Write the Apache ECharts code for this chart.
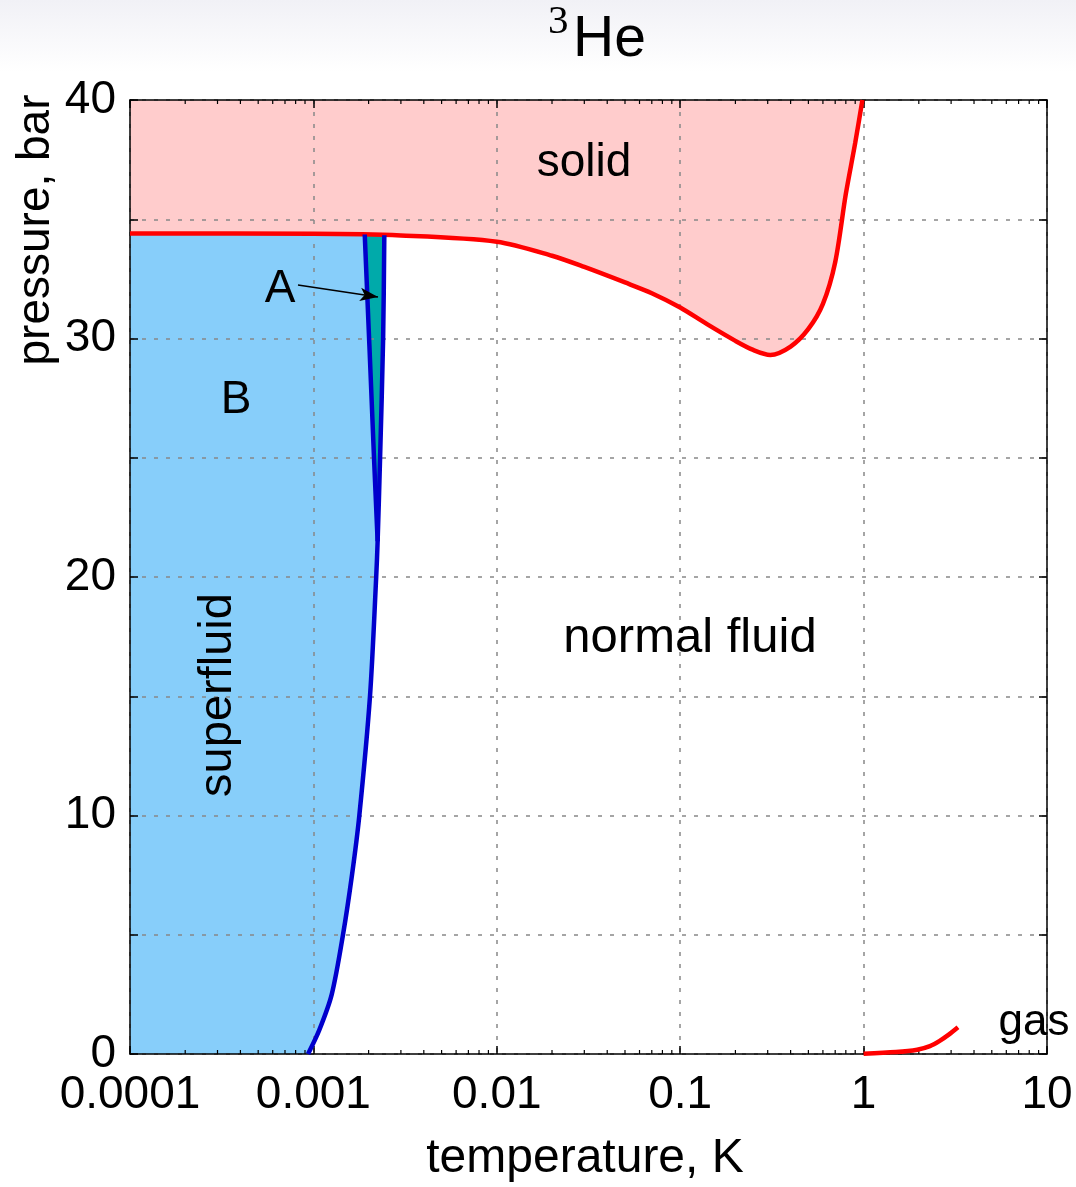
<!DOCTYPE html>
<html>
<head>
<meta charset="utf-8">
<script src="https://cdn.jsdelivr.net/npm/echarts@6/dist/echarts.min.js"></script>
<style>
  html, body { margin: 0; padding: 0; background: #fff; }
  #chart { width: 1076px; height: 1187px; background: linear-gradient(#f1f1f6 0px, #ffffff 72px); }
</style>
</head>
<body>
<div id="chart"></div>
<script>
// tick labels
var xTickLabels = ['0.0001', '0.001', '0.01', '0.1', '1', '10'];
var yTickLabels = ['0', '10', '20', '30', '40'];

// melting curve (K, bar)
var meltT = [0.0001, 0.001, 0.003, 0.01, 0.02, 0.03, 0.05, 0.07, 0.1, 0.14, 0.2, 0.25, 0.31, 0.4, 0.5, 0.6, 0.7, 0.8, 0.9, 0.985];
var meltP = [34.40, 34.39, 34.32, 34.06, 33.47, 33.0, 32.35, 31.9, 31.3, 30.6, 29.9, 29.52, 29.31, 29.66, 30.4, 31.45, 33.2, 36.06, 38.2, 40.0];

// superfluid transition Tc (K, bar)
var tcT = [0.000935, 0.001076, 0.001259, 0.00145, 0.001623, 0.00178, 0.002035, 0.0022, 0.00224, 0.00231, 0.0024, 0.002436];
var tcP = [0, 1, 2.5, 5, 7.5, 10, 15, 20, 21.5, 25, 30, 34.33];

// A-B transition (K, bar)
var abT = [0.00224, 0.00214, 0.00202, 0.001905];
var abP = [21.5, 25, 29.7, 34.36];

// vapour pressure (K, bar)
var vapT = [1.0, 1.5, 1.96, 2.3, 2.6, 2.9, 3.27];
var vapP = [0.012, 0.08, 0.18, 0.33, 0.55, 0.8, 1.12];

// arrow from "A" label to the A phase
var arrowFrom = [0.000824, 32.24];
var arrowTo = [0.00225, 31.74];

var minorMult = [2, 3, 4, 5, 6, 7, 8, 9];
var decades = [0.0001, 0.001, 0.01, 0.1, 1];

var FONT = '"Liberation Sans", Arial, sans-serif';

function zip(a, b) { return a.map(function (v, i) { return [v, b[i]]; }); }

var minorTicks = [];
decades.forEach(function (d) { minorMult.forEach(function (m) { minorTicks.push([d * m, 0]); }); });

// polygons for the superfluid phases
function superfluidPoly() {
  var pts = [[0.0001, 0]];
  for (var i = 0; i < tcT.length; i++) pts.push([tcT[i], tcP[i]]);
  for (var j = meltT.length - 1; j >= 0; j--) if (meltT[j] < tcT[tcT.length - 1]) pts.push([meltT[j], meltP[j]]);
  return pts;
}
function aPoly() {
  var pts = zip(abT, abP);
  for (var i = tcT.length - 1; i >= 0; i--) if (tcP[i] >= abP[0]) pts.push([tcT[i], tcP[i]]);
  return pts;
}

var fills = [
  { pts: superfluidPoly(), color: '#87CEFA' },
  { pts: aPoly(), color: '#00AAAA' }
];

var chart = echarts.init(document.getElementById('chart'));

var axisLineStyle = { color: '#000', width: 1.5 };
var gridStyle = { color: '#888', type: [4, 8], width: 1.5 };

function label(text, x, y, size, rot) {
  return {
    type: 'text', x: x, y: y, z: 10, rotation: rot || 0,
    style: { text: text, font: size + 'px ' + FONT, fill: '#000', textAlign: 'center', textVerticalAlign: 'middle', align: 'center', verticalAlign: 'middle' }
  };
}

chart.setOption({
  animation: false,
  grid: { left: 130, right: 29, top: 100, bottom: 133 },
  xAxis: [{
    type: 'log', logBase: 10, min: 0.0001, max: 10, position: 'bottom', z: 3,
    axisLine: { show: true, onZero: false, lineStyle: axisLineStyle },
    axisTick: { inside: true, length: 8, lineStyle: axisLineStyle },
    axisLabel: {
      margin: 18, fontSize: 46, fontFamily: FONT, color: '#000',
      formatter: function (v) { return xTickLabels[Math.round(Math.log10(v)) + 4]; }
    },
    splitLine: { show: true, lineStyle: gridStyle }
  }, {
    type: 'log', logBase: 10, min: 0.0001, max: 10, position: 'top', z: 3,
    axisLine: { show: true, onZero: false, lineStyle: axisLineStyle },
    axisTick: { inside: true, length: 8, lineStyle: axisLineStyle },
    axisLabel: { show: false },
    splitLine: { show: false }
  }],
  yAxis: [{
    type: 'value', min: 0, max: 40, interval: 5, position: 'left', z: 3,
    axisLine: { show: true, onZero: false, lineStyle: axisLineStyle },
    axisTick: { inside: true, length: 8, lineStyle: axisLineStyle },
    axisLabel: {
      margin: 14, fontSize: 46, fontFamily: FONT, color: '#000',
      formatter: function (v) { return v % 10 === 0 ? yTickLabels[v / 10] : ''; }
    },
    splitLine: { show: true, lineStyle: gridStyle }
  }, {
    type: 'value', min: 0, max: 40, interval: 5, position: 'right', z: 3,
    axisLine: { show: true, onZero: false, lineStyle: axisLineStyle },
    axisTick: { inside: true, length: 8, lineStyle: axisLineStyle },
    axisLabel: { show: false },
    splitLine: { show: false }
  }],
  graphic: [
    { type: 'text', x: 573, y: 40, style: { text: 'He', font: '57px ' + FONT, fill: '#000', textAlign: 'left', textVerticalAlign: 'middle', align: 'left', verticalAlign: 'middle' } },
    { type: 'text', x: 548, y: 22, style: { text: '3', font: '41px "Liberation Serif", "DejaVu Serif", serif', fill: '#000', textAlign: 'left', textVerticalAlign: 'middle', align: 'left', verticalAlign: 'middle' } },
    label('temperature, K', 585, 1159, 48),
    label('pressure, bar', 36, 230, 46, Math.PI / 2),
    label('solid', 584, 163, 46),
    label('normal fluid', 690, 638, 49),
    label('B', 236, 400, 46),
    label('A', 280, 289, 46),
    label('superfluid', 218, 695, 47, Math.PI / 2),
    label('gas', 1034, 1023, 44)
  ],
  series: [
    {
      // solid phase: area between melting curve and top of the axis
      type: 'line', z: 1, silent: true, symbol: 'none', smooth: 0.3,
      data: zip(meltT, meltP),
      lineStyle: { width: 0 },
      areaStyle: { origin: 'end', color: '#FFCCCC', opacity: 1 }
    },
    {
      type: 'custom', z: 1, silent: true,
      data: [[0.001, 1]],
      renderItem: function (params, api) {
        return {
          type: 'group',
          children: fills.map(function (f) {
            return {
              type: 'polygon',
              shape: { points: f.pts.map(function (p) { return api.coord(p); }) },
              style: { fill: f.color }
            };
          })
        };
      }
    },
    {
      type: 'custom', z: 4, silent: true,
      data: minorTicks,
      renderItem: function (params, api) {
        var x = api.coord([api.value(0), 0])[0];
        var cs = params.coordSys;
        var st = { stroke: '#000', lineWidth: 1.2 };
        return {
          type: 'group',
          children: [
            { type: 'line', shape: { x1: x, y1: cs.y + cs.height, x2: x, y2: cs.y + cs.height - 4 }, style: st },
            { type: 'line', shape: { x1: x, y1: cs.y, x2: x, y2: cs.y + 4 }, style: st }
          ]
        };
      }
    },
    { type: 'line', z: 5, symbol: 'none', smooth: 0.3, data: zip(meltT, meltP), lineStyle: { color: '#FF0000', width: 4.5 } },
    { type: 'line', z: 5, symbol: 'none', smooth: 0.3, data: zip(vapT, vapP), lineStyle: { color: '#FF0000', width: 4.5 } },
    { type: 'line', z: 5, symbol: 'none', smooth: 0.3, data: zip(tcT, tcP), lineStyle: { color: '#0000CC', width: 4.5 } },
    {
      type: 'line', z: 5, symbol: 'none', data: zip(abT, abP), lineStyle: { color: '#0000CC', width: 4.5 },
      markLine: {
        silent: true, symbol: ['none', 'arrow'], symbolSize: [10, 18], z: 6,
        label: { show: false },
        lineStyle: { color: '#000', width: 1.5, type: 'solid' },
        data: [[{ coord: arrowFrom }, { coord: arrowTo }]]
      }
    }
  ]
});
</script>
</body>
</html>
